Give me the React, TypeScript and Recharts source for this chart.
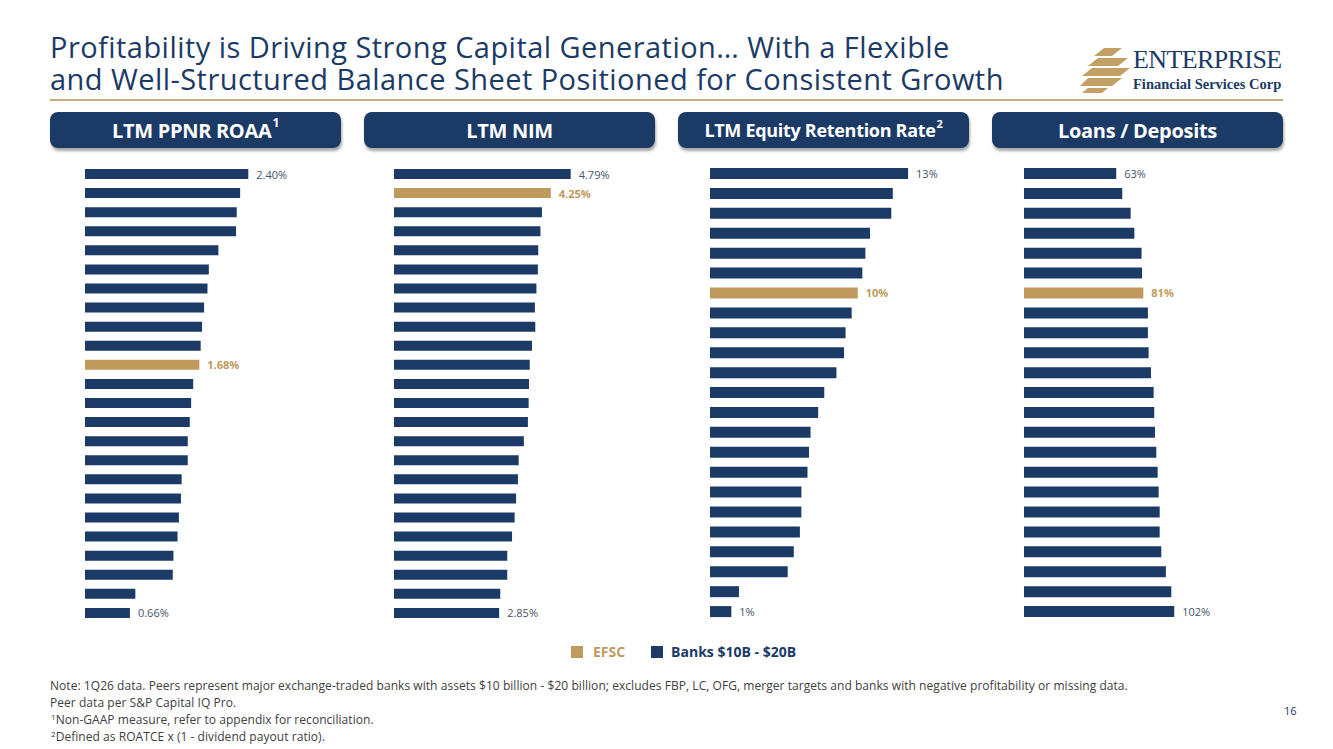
import { BarChart, Bar, XAxis, YAxis, Cell, LabelList } from 'recharts';

const NAVY = '#1B3A66';
const GOLD = '#C09A5C';
const LABEL_GRAY = '#44546A';
const FONT = '"Open Sans", sans-serif';

// LTM PPNR ROAA (%), sorted high to low
const roaaValues = [2.40, 2.28, 2.23, 2.22, 1.96, 1.82, 1.80, 1.75, 1.72, 1.70, 1.68, 1.59, 1.56, 1.54, 1.51, 1.51, 1.42, 1.41, 1.38, 1.36, 1.30, 1.29, 0.74, 0.66];
const roaaEfsc = 10;

// LTM NIM (%)
const nimValues = [4.79, 4.25, 4.01, 3.97, 3.91, 3.90, 3.86, 3.82, 3.83, 3.74, 3.68, 3.66, 3.65, 3.63, 3.52, 3.38, 3.36, 3.31, 3.27, 3.20, 3.07, 3.07, 2.88, 2.85];
const nimEfsc = 1;

// LTM equity retention rate (%)
const retentionValues = [13.0, 12.0, 11.9, 10.5, 10.2, 10.0, 9.7, 9.3, 8.9, 8.8, 8.3, 7.5, 7.1, 6.6, 6.5, 6.4, 6.0, 6.0, 5.9, 5.5, 5.1, 1.9, 1.4];
const retentionEfsc = 6;

// Loans / deposits (%)
const loansDepositsValues = [62.6, 66.7, 72.4, 74.9, 79.8, 80.1, 81.0, 84.1, 84.1, 84.6, 86.2, 88.0, 88.4, 88.9, 89.8, 90.7, 91.4, 92.1, 92.1, 93.2, 96.3, 100.0, 102.0];
const loansDepositsEfsc = 6;

const footnotes = [
  'Note: 1Q26 data. Peers represent major exchange-traded banks with assets $10 billion - $20 billion; excludes FBP,  LC, OFG, merger targets and banks with negative profitability or missing data.',
  'Peer data per S&P Capital IQ Pro.',
];

interface Row { name: string; v: number }

const toRows = (vals: number[]): Row[] => vals.map((v, i) => ({ name: `b${i + 1}`, v }));

function RankBars({ values, efsc, max, decimals, left, barSize }: {
  values: number[]; efsc: number; max: number; decimals: number; left: number; barSize: number;
}) {
  const data = toRows(values);
  const last = values.length - 1;

  const renderLabel = (props: any) => {
    const { x, y, width, height, value, index } = props;
    if (index !== 0 && index !== efsc && index !== last) return null;
    const isEfsc = index === efsc;
    return (
      <text
        x={Number(x) + Number(width) + 8}
        y={Number(y) + Number(height) / 2}
        dominantBaseline="central"
        fontFamily={FONT}
        fontSize={11}
        fontWeight={isEfsc ? 700 : 400}
        fill={isEfsc ? GOLD : LABEL_GRAY}
      >
        {`${Number(value).toFixed(decimals)}%`}
      </text>
    );
  };

  return (
    <div style={{ position: 'absolute', left, top: 164 }}>
      <BarChart width={280} height={458} data={data} layout="vertical" margin={{ top: 0, right: 30, bottom: 0, left: 0 }}>
        <XAxis type="number" domain={[0, max]} hide />
        <YAxis type="category" dataKey="name" width={0} tick={false} tickLine={false} axisLine={{ stroke: '#D9D9D9' }} />
        <Bar dataKey="v" barSize={barSize} isAnimationActive={false}>
          {data.map((_, i) => (
            <Cell key={i} fill={i === efsc ? GOLD : NAVY} />
          ))}
          <LabelList dataKey="v" content={renderLabel} />
        </Bar>
      </BarChart>
    </div>
  );
}

function Header({ left, children, size = 20 }: { left: number; children: React.ReactNode; size?: number }) {
  return (
    <div style={{
      position: 'absolute', left, top: 112, width: 291, height: 36, borderRadius: 8,
      background: NAVY, color: '#fff', fontFamily: FONT, fontWeight: 700, fontSize: size,
      display: 'flex', alignItems: 'center', justifyContent: 'center', letterSpacing: -0.3,
      boxShadow: '1px 3px 3px rgba(0,0,0,0.35)',
    }}>
      {children}
    </div>
  );
}

const Sup = ({ n, size }: { n: string; size: number }) => (
  <span style={{ fontSize: size, position: 'relative', top: -size * 0.55, marginLeft: 1, lineHeight: 0 }}>{n}</span>
);

function Logo() {
  return (
    <div style={{ position: 'absolute', left: 1080, top: 46, width: 210, height: 50 }}>
      <svg width={52} height={48} style={{ position: 'absolute', left: 0, top: 0 }}>
        <g fill="#C2A064">
          <polygon points="24,2 42,2 32,10 14,10" />
          <polygon points="18,12 48,12 38,20 8,20" />
          <polygon points="12,22 50,22 40,30 2,30" />
          <polygon points="8,32 42,32 32,40 0,40" />
          <polygon points="8,42 28,42 22,47 2,47" />
        </g>
      </svg>
      <div style={{ position: 'absolute', left: 53, top: 0, fontFamily: '"Liberation Serif", serif', fontSize: 26, color: NAVY, letterSpacing: -0.6, lineHeight: '28px' }}>
        ENTERPRISE
      </div>
      <div style={{ position: 'absolute', left: 53, top: 30, fontFamily: '"Liberation Serif", serif', fontSize: 14.5, fontWeight: 700, color: NAVY, lineHeight: '16px', whiteSpace: 'nowrap' }}>
        Financial Services Corp
      </div>
    </div>
  );
}

export default function App() {
  return (
    <div style={{ position: 'relative', width: 1333, height: 749, background: '#fff', overflow: 'hidden' }}>
      <style>{'body{margin:0}'}</style>
      <div style={{ position: 'absolute', left: 50, top: 31, fontFamily: FONT, fontSize: 29, color: NAVY, lineHeight: '32px', whiteSpace: 'nowrap', letterSpacing: 0.45 }}>
        Profitability is Driving Strong Capital Generation… With a Flexible
        <br />
        and Well-Structured Balance Sheet Positioned for Consistent Growth
      </div>
      <Logo />
      <div style={{ position: 'absolute', left: 50, top: 99, width: 1233, height: 2, background: '#C9AE7D' }} />

      <Header left={50}>LTM PPNR ROAA<Sup n="1" size={12} /></Header>
      <Header left={364}>LTM NIM</Header>
      <Header left={678} size={18}>LTM Equity Retention Rate<Sup n="2" size={11} /></Header>
      <Header left={992}>Loans / Deposits</Header>

      <RankBars values={roaaValues} efsc={roaaEfsc} max={3.674} decimals={2} left={85} barSize={10} />
      <RankBars values={nimValues} efsc={nimEfsc} max={6.777} decimals={2} left={394} barSize={10} />
      <RankBars values={retentionValues} efsc={retentionEfsc} max={16.41} decimals={0} left={710} barSize={11} />
      <RankBars values={loansDepositsValues} efsc={loansDepositsEfsc} max={169.7} decimals={0} left={1024} barSize={11} />

      <div style={{ position: 'absolute', left: 0, width: 1333, top: 642, display: 'flex', justifyContent: 'center', gap: 26, fontFamily: FONT, fontSize: 14, fontWeight: 700, paddingLeft: 34, boxSizing: 'border-box' }}>
        <span style={{ display: 'flex', alignItems: 'center', color: '#BF9B60' }}>
          <span style={{ width: 12, height: 12, background: '#BF9B60', marginRight: 10, display: 'inline-block' }} />EFSC
        </span>
        <span style={{ display: 'flex', alignItems: 'center', color: NAVY }}>
          <span style={{ width: 12, height: 12, background: NAVY, marginRight: 8, display: 'inline-block' }} />Banks $10B - $20B
        </span>
      </div>

      <div style={{ position: 'absolute', left: 50, top: 677, fontFamily: FONT, fontSize: 12, color: '#404040', lineHeight: '17px', whiteSpace: 'nowrap', letterSpacing: 0.05 }}>
        {footnotes.map((f) => <div key={f}>{f}</div>)}
        <div><Sup n="1" size={8} />Non-GAAP measure, refer to appendix for reconciliation.</div>
        <div><Sup n="2" size={8} />Defined as ROATCE x (1 - dividend payout ratio).</div>
      </div>
      <div style={{ position: 'absolute', left: 1284, top: 703, fontFamily: FONT, fontSize: 11, color: NAVY }}>16</div>
    </div>
  );
}
